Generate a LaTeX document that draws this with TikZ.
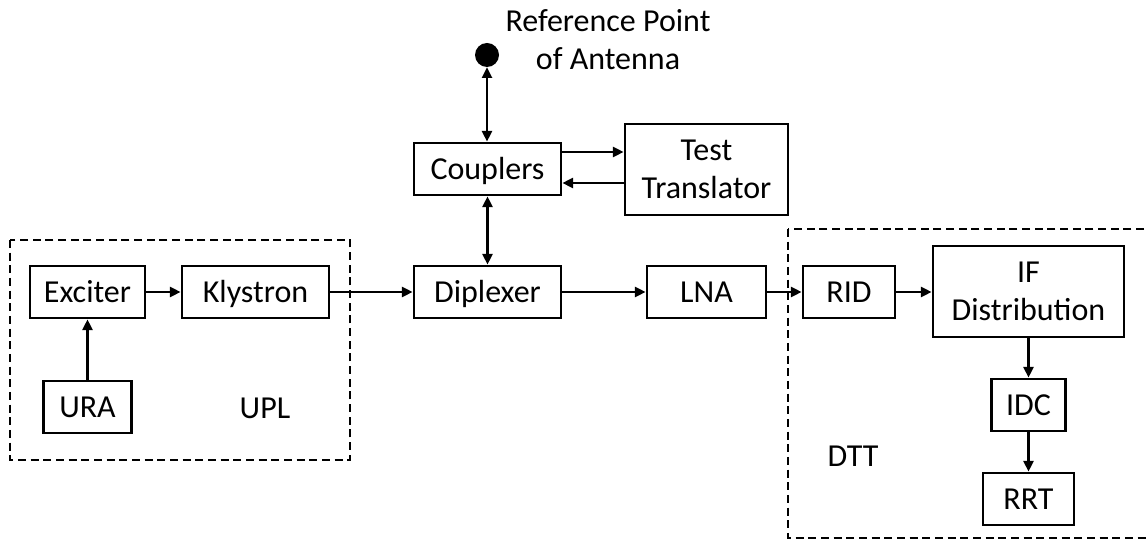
\documentclass[tikz,border=0pt]{standalone}
\usepackage{fontspec}
\setmainfont{Carlito}
\usetikzlibrary{arrows.meta}
\begin{document}
\begin{tikzpicture}[x=0.75pt,y=-0.75pt,
  every node/.style={font=\fontsize{24}{28.5}\selectfont, inner sep=0pt, align=center},
  blk/.style={draw, line width=2.1pt, rectangle, minimum height=39pt},
  one/.style={text height=15.4pt, text depth=0pt},
  arr/.style={line width=1.7pt, -{Triangle[length=8pt,width=7.5pt]}},
  darr/.style={line width=1.7pt, {Triangle[length=8pt,width=7.5pt]}-{Triangle[length=8pt,width=7.5pt]}},
  grp/.style={line width=1.8pt, dash pattern=on 6pt off 3.5pt}]
\useasboundingbox (0,0) rectangle (1147,541);
% groups
\draw[grp] (10,240) rectangle (350,460);
\begin{scope}
\clip (0,0) rectangle (1147,541);
\draw[grp] (788,229) rectangle (1170,538);
\end{scope}
% nodes
\node[circle, fill, minimum size=18pt] (dot) at (487,55) {};
\node (ref) at (608,40) {Reference Point\\of Antenna};
\node[blk, one, minimum width=110.25pt] (couplers) at (487.5,169) {Couplers};
\node[blk, minimum width=122.25pt, minimum height=68.25pt] (tt) at (706.5,169.5) {Test\\Translator};
\node[blk, one, minimum width=86.25pt] (exciter) at (87.5,292) {Exciter};
\node[blk, one, minimum width=110.25pt] (klystron) at (255.5,292) {Klystron};
\node[blk, one, minimum width=66pt] (ura) at (87.5,407) {URA};
\node[one] (upl) at (265,408) {UPL};
\node[blk, one, minimum width=110.25pt] (diplexer) at (487.5,292) {Diplexer};
\node[blk, one, minimum width=89.25pt] (lna) at (706.5,292) {LNA};
\node[blk, one, minimum width=69pt] (rid) at (849,292) {RID};
\node[blk, minimum width=143.25pt, minimum height=68.25pt] (ifd) at (1028.5,291.5) {IF\\Distribution};
\node[blk, one, minimum width=55.5pt] (idc) at (1028.5,405) {IDC};
\node[blk, one, minimum width=68.25pt] (rrt) at (1028.5,499) {RRT};
\node[one] (dtt) at (853,456) {DTT};
% connectors
\draw[darr] (dot.south) -- (couplers.north -| dot.south);
\draw[darr] (couplers.south) -- (diplexer.north);
\draw[arr] (couplers.east |- 0,152) -- (tt.west |- 0,152);
\draw[arr] (tt.west |- 0,183) -- (couplers.east |- 0,183);
\draw[arr] (ura.north) -- (exciter.south);
\draw[arr] (exciter.east) -- (klystron.west);
\draw[arr] (klystron.east) -- (diplexer.west);
\draw[arr] (diplexer.east) -- (lna.west);
\draw[arr] (lna.east) -- (rid.west);
\draw[arr] (rid.east) -- (ifd.west |- rid.east);
\draw[arr] (ifd.south) -- (idc.north);
\draw[arr] (idc.south) -- (rrt.north);
\end{tikzpicture}
\end{document}
